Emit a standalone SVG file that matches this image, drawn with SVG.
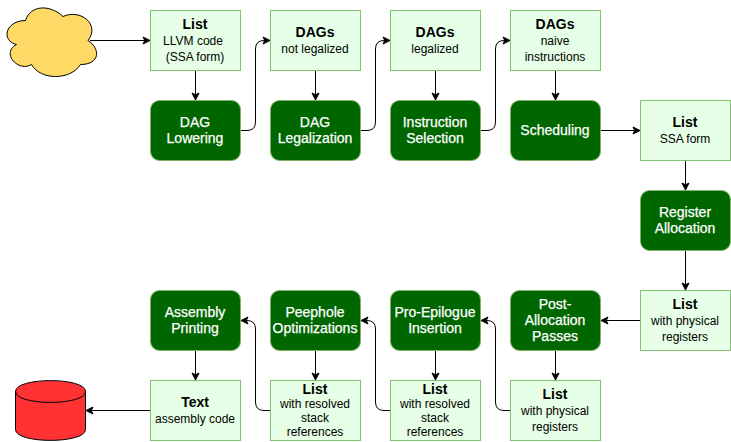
<svg xmlns="http://www.w3.org/2000/svg" width="731" height="442" viewBox="0 0 731 442">
<style>
text{font-family:"Liberation Sans",Arial,sans-serif;text-anchor:middle}
.l{fill:#e6ffe6;stroke:#82c272;stroke-width:1}
.d{fill:#006600;stroke:#82b366;stroke-width:1}
.t{font-size:14px;font-weight:bold;fill:#000}
.s{font-size:12px;fill:#000}
.w{font-size:14px;fill:#fff;stroke:#fff;stroke-width:.25}
.c{fill:none;stroke:#000;stroke-width:1;marker-end:url(#a)}
</style>
<defs>
<marker id="a" markerUnits="userSpaceOnUse" markerWidth="10" markerHeight="10" viewBox="-8 -5 10 10" refX="0" refY="0" orient="auto"><path d="M0 0L-7 -3.500L-5.250 0L-7 3.500Z" fill="#000" stroke="#000" stroke-width="1"/></marker>
</defs>
<g id="connectors">
<path class="c" d="M90 40.500H150"/>
<path class="c" d="M195.500 70.500V100"/>
<path class="c" d="M240.500 130.500H247Q255.500 130.500 255.500 122V49Q255.500 40.500 264 40.500H270"/>
<path class="c" d="M315.500 70.500V100"/>
<path class="c" d="M360.500 130.500H367Q375.500 130.500 375.500 122V49Q375.500 40.500 384 40.500H390"/>
<path class="c" d="M435.500 70.500V100"/>
<path class="c" d="M480.500 130.500H487Q495.500 130.500 495.500 122V49Q495.500 40.500 504 40.500H510"/>
<path class="c" d="M555.500 70.500V100"/>
<path class="c" d="M601 130.500H640"/>
<path class="c" d="M685.500 160.500V190"/>
<path class="c" d="M685.500 250.500V290"/>
<path class="c" d="M640.500 320.500H601"/>
<path class="c" d="M555.500 350.500V380"/>
<path class="c" d="M510.500 410.500H504Q495.500 410.500 495.500 402V329Q495.500 320.500 487 320.500H481"/>
<path class="c" d="M435.500 350.500V380"/>
<path class="c" d="M390.500 410.500H384Q375.500 410.500 375.500 402V329Q375.500 320.500 367 320.500H361"/>
<path class="c" d="M315.500 350.500V380"/>
<path class="c" d="M270.500 410.500H264Q255.500 410.500 255.500 402V329Q255.500 320.500 247 320.500H241"/>
<path class="c" d="M195.500 350.500V380"/>
<path class="c" d="M150.500 410.500H86"/>
</g>
<g id="cloud"><path d="M25.500 20.500C5.500 20.500 .5 40.500 16.500 44.500C.5 53.300 18.500 72.500 31.500 64.500C40.500 80.500 70.500 80.500 80.500 64.500C100.500 64.500 100.500 48.500 88 40.500C100.500 24.500 80.500 8.500 63 16.500C50.500 4.500 30.500 4.500 25.500 20.500Z" fill="#ffd966" stroke="#000"/></g>
<g id="list-llvm"><rect class="l" x="150.500" y="10.500" width="90" height="60"/><text class="t" x="195" y="29">List</text><text class="s" x="193" y="45">LLVM code</text><text class="s" x="195" y="61">(SSA form)</text></g>
<g id="dags-not-legalized"><rect class="l" x="270.500" y="10.500" width="90" height="60"/><text class="t" x="315" y="37">DAGs</text><text class="s" x="315" y="53">not legalized</text></g>
<g id="dags-legalized"><rect class="l" x="390.500" y="10.500" width="90" height="60"/><text class="t" x="435" y="37">DAGs</text><text class="s" x="435" y="53">legalized</text></g>
<g id="dags-naive"><rect class="l" x="510.500" y="10.500" width="90" height="60"/><text class="t" x="555" y="29">DAGs</text><text class="s" x="555" y="45">naive</text><text class="s" x="555" y="61">instructions</text></g>
<g id="dag-lowering"><rect class="d" x="150.500" y="100.500" width="90" height="60" rx="9"/><text class="w" x="195" y="127">DAG</text><text class="w" x="195" y="143">Lowering</text></g>
<g id="dag-legalization"><rect class="d" x="270.500" y="100.500" width="90" height="60" rx="9"/><text class="w" x="315" y="127">DAG</text><text class="w" x="315" y="143">Legalization</text></g>
<g id="instruction-selection"><rect class="d" x="390.500" y="100.500" width="90" height="60" rx="9"/><text class="w" x="435" y="127">Instruction</text><text class="w" x="435" y="143">Selection</text></g>
<g id="scheduling"><rect class="d" x="510.500" y="100.500" width="90" height="60" rx="9"/><text class="w" x="555" y="135">Scheduling</text></g>
<g id="list-ssa"><rect class="l" x="640.500" y="100.500" width="90" height="60"/><text class="t" x="685" y="127">List</text><text class="s" x="685" y="143">SSA form</text></g>
<g id="register-allocation"><rect class="d" x="640.500" y="190.500" width="90" height="60" rx="9"/><text class="w" x="685" y="217">Register</text><text class="w" x="685" y="233">Allocation</text></g>
<g id="list-physical-1"><rect class="l" x="640.500" y="290.500" width="90" height="60"/><text class="t" x="685" y="309">List</text><text class="s" x="685" y="325">with physical</text><text class="s" x="685" y="341">registers</text></g>
<g id="post-allocation"><rect class="d" x="510.500" y="290.500" width="90" height="60" rx="9"/><text class="w" x="555" y="309">Post-</text><text class="w" x="555" y="325">Allocation</text><text class="w" x="555" y="341">Passes</text></g>
<g id="pro-epilogue"><rect class="d" x="390.500" y="290.500" width="90" height="60" rx="9"/><text class="w" x="435" y="317">Pro-Epilogue</text><text class="w" x="435" y="333">Insertion</text></g>
<g id="peephole"><rect class="d" x="270.500" y="290.500" width="90" height="60" rx="9"/><text class="w" x="315" y="317">Peephole</text><text class="w" x="315" y="333">Optimizations</text></g>
<g id="assembly-printing"><rect class="d" x="150.500" y="290.500" width="90" height="60" rx="9"/><text class="w" x="195" y="317">Assembly</text><text class="w" x="195" y="333">Printing</text></g>
<g id="list-physical-2"><rect class="l" x="510.500" y="380.500" width="90" height="60"/><text class="t" x="555" y="399">List</text><text class="s" x="555" y="415">with physical</text><text class="s" x="555" y="431">registers</text></g>
<g id="list-resolved-1"><rect class="l" x="390.500" y="380.500" width="90" height="60"/><text class="t" x="435" y="394">List</text><text class="s" x="435" y="408">with resolved</text><text class="s" x="435" y="422">stack</text><text class="s" x="435" y="436">references</text></g>
<g id="list-resolved-2"><rect class="l" x="270.500" y="380.500" width="90" height="60"/><text class="t" x="315" y="394">List</text><text class="s" x="315" y="408">with resolved</text><text class="s" x="315" y="422">stack</text><text class="s" x="315" y="436">references</text></g>
<g id="text-assembly"><rect class="l" x="150.500" y="380.500" width="90" height="60"/><text class="t" x="195" y="407">Text</text><text class="s" x="195" y="423">assembly code</text></g>
<g id="database"><path d="M15.500 391.500C15.500 377 85.500 377 85.500 391.500V429.500C85.500 444 15.500 444 15.500 429.500Z" fill="#ff3333" stroke="#000"/><path d="M15.500 391.500C15.500 406 85.500 406 85.500 391.500" fill="none" stroke="#000"/></g>
</svg>
